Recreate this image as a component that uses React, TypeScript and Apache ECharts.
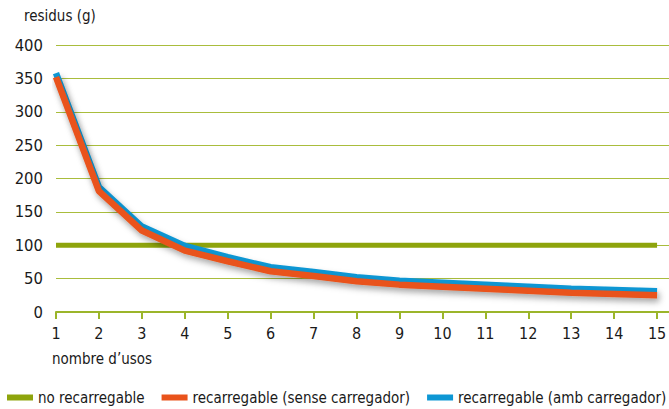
import React, { useEffect, useRef } from "react";
import * as echarts from "echarts";

const usos = [1, 2, 3, 4, 5, 6, 7, 8, 9, 10, 11, 12, 13, 14, 15];
const noRecarregable = [100, 100, 100, 100, 100, 100, 100, 100, 100, 100, 100, 100, 100, 100, 100];
const senseCarregador = [352, 181, 122, 92, 76, 61, 54, 46, 41, 38, 35, 32, 29, 27, 25];
const ambCarregador = [358, 187, 128, 99, 82, 67, 60, 52, 47, 44, 41, 38, 35, 33, 31];
const seriesNames = ["no recarregable", "recarregable (sense carregador)", "recarregable (amb carregador)"];
const yTitle = "residus (g)";
const xTitle = "nombre d\u2019usos";

const FONT = "'Liberation Sans Narrow', 'Arial Narrow', 'DejaVu Sans Condensed', sans-serif";
const GREEN = "#8ea40c";
const ORANGE = "#e9531b";
const BLUE = "#0d97d4";
const GRID = "#a9bd3c";

export default function App() {
  const ref = useRef<HTMLDivElement>(null);
  useEffect(() => {
    if (!ref.current) return;
    const chart = echarts.init(ref.current, undefined, { renderer: "svg" });
    const pair = (vals: number[]) => usos.map((x, i) => [x, vals[i]]);
    const shadow = {
      shadowColor: "rgba(0,0,0,0.28)",
      shadowBlur: 6,
      shadowOffsetX: 2,
      shadowOffsetY: 4,
    };
    chart.setOption({
      animation: false,
      textStyle: { fontFamily: FONT },
      grid: { left: 56, right: -31, top: 45, bottom: 97, containLabel: false, outerBoundsMode: "none" },
      graphic: [
        { type: "text", left: 24, top: 8, style: { text: yTitle, fontFamily: FONT, fontSize: 15, fill: "#1a1a1a" } },
        { type: "text", left: 52, top: 351, style: { text: xTitle, fontFamily: FONT, fontSize: 15, fill: "#1a1a1a" } },
      ],
      legend: {
        data: seriesNames,
        left: 7,
        top: 390,
        width: 700,
        padding: 0,
        icon: "rect",
        itemWidth: 26,
        itemHeight: 6,
        itemGap: 17,
        textStyle: { fontFamily: FONT, fontSize: 15, color: "#1a1a1a" },
      },
      xAxis: {
        type: "value",
        min: 1,
        max: 16,
        interval: 1,
        axisLine: { show: true, lineStyle: { color: "#9bb52a", width: 2 } },
        axisTick: { show: true, length: 7, lineStyle: { color: "#9bb52a", width: 2 } },
        axisLabel: { fontFamily: FONT, fontSize: 16, color: "#1a1a1a", margin: 13, showMaxLabel: false },
        splitLine: { show: false },
      },
      yAxis: {
        type: "value",
        min: 0,
        max: 400,
        interval: 50,
        axisLine: { show: false },
        axisTick: { show: false },
        axisLabel: { fontFamily: FONT, fontSize: 16.5, color: "#1a1a1a", margin: 13 },
        splitLine: { show: true, lineStyle: { color: GRID, width: 1.2 } },
      },
      series: [
        {
          name: seriesNames[0],
          type: "line",
          data: pair(noRecarregable),
          symbol: "none",
          color: GREEN,
          lineStyle: { color: GREEN, width: 5 },
          z: 2,
        },
        {
          name: seriesNames[2],
          type: "line",
          data: pair(ambCarregador),
          symbol: "none",
          color: BLUE,
          lineStyle: { color: BLUE, width: 6.5, ...shadow },
          z: 3,
        },
        {
          name: seriesNames[1],
          type: "line",
          data: pair(senseCarregador),
          symbol: "none",
          color: ORANGE,
          lineStyle: { color: ORANGE, width: 6.5, ...shadow },
          z: 4,
        },
      ],
    });
    return () => chart.dispose();
  }, []);
  return <div ref={ref} style={{ width: 669, height: 409, position: "absolute", left: 0, top: 0 }} />;
}
